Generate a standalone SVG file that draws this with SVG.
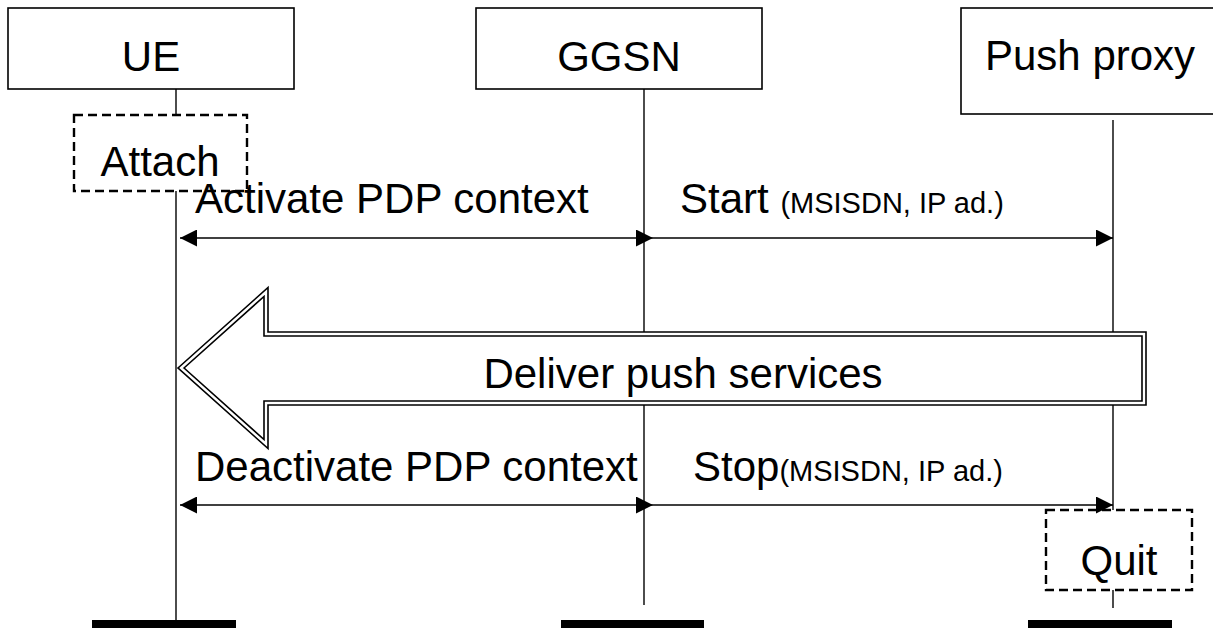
<svg xmlns="http://www.w3.org/2000/svg" width="1213" height="628" viewBox="0 0 1213 628">
<style>
.box{fill:#fff;stroke:#000;stroke-width:1.6}
.dash{fill:none;stroke:#000;stroke-width:2.4;stroke-dasharray:9 5}
.life{stroke:#000;stroke-width:1.4;fill:none}
.msg{stroke:#000;stroke-width:1.4;fill:none}
.bar{fill:#000}
.t{font-family:"Liberation Sans",Arial,sans-serif;font-size:42px;fill:#000}
.s{font-size:29px}
</style>
<defs>
<marker id="ah" viewBox="0 0 17 17" refX="17" refY="8.5" markerWidth="17" markerHeight="17" markerUnits="userSpaceOnUse" orient="auto-start-reverse">
<path d="M0,0 L17,8.5 L0,17 Z" fill="#000"/>
</marker>
</defs>
<g id="lifelines">
<line class="life" x1="176" y1="89" x2="176" y2="115"/>
<line class="life" x1="176" y1="191" x2="176" y2="622"/>
<line class="life" x1="644" y1="89" x2="644" y2="605"/>
<line class="life" x1="1113" y1="120" x2="1113" y2="510"/>
<line class="life" x1="1113" y1="590" x2="1113" y2="608"/>
</g>
<g id="node-ue">
<rect class="box" x="8" y="8" width="286" height="81"/>
<text class="t" x="151" y="71" text-anchor="middle">UE</text>
</g>
<g id="node-ggsn">
<rect class="box" x="476" y="8" width="286" height="81"/>
<text class="t" x="619" y="71" text-anchor="middle">GGSN</text>
</g>
<g id="node-pushproxy">
<rect class="box" x="961" y="8" width="270" height="106"/>
<text class="t" x="985" y="70">Push proxy</text>
</g>
<g id="node-attach">
<rect class="dash" x="74" y="115" width="173" height="76" fill="#fff"/>
<text class="t" x="160" y="176" text-anchor="middle">Attach</text>
</g>
<g id="connectors">
<line class="msg" x1="180" y1="238" x2="653" y2="238" marker-start="url(#ah)" marker-end="url(#ah)"/>
<line class="msg" x1="653" y1="238" x2="1113" y2="238" marker-end="url(#ah)"/>
<line class="msg" x1="180" y1="505" x2="653" y2="505" marker-start="url(#ah)" marker-end="url(#ah)"/>
<line class="msg" x1="653" y1="505" x2="1113" y2="505" marker-end="url(#ah)"/>
<text class="t" x="195" y="213">Activate PDP context</text>
<text class="t" x="680" y="213">Start <tspan class="s">(MSISDN, IP ad.)</tspan></text>
<text class="t" x="195" y="481">Deactivate PDP context</text>
<text class="t" x="693" y="481">Stop<tspan class="s">(MSISDN, IP ad.)</tspan></text>
</g>
<g id="node-deliver">
<polygon points="181,368 266,292 266,334 1144,334 1144,403 266,403 266,444" fill="#fff" stroke="#000" stroke-width="5.6" stroke-linejoin="miter"/>
<polygon points="181,368 266,292 266,334 1144,334 1144,403 266,403 266,444" fill="none" stroke="#fff" stroke-width="2.4" stroke-linejoin="miter"/>
<text class="t" x="683" y="388" text-anchor="middle">Deliver push services</text>
</g>
<g id="node-quit">
<rect class="dash" x="1046" y="510" width="146" height="80" fill="#fff"/>
<text class="t" x="1119" y="575" text-anchor="middle">Quit</text>
</g>
<g id="ends">
<rect class="bar" x="92" y="620" width="144" height="8"/>
<rect class="bar" x="561" y="620" width="143" height="8"/>
<rect class="bar" x="1028" y="620" width="144" height="8"/>
</g>
</svg>
